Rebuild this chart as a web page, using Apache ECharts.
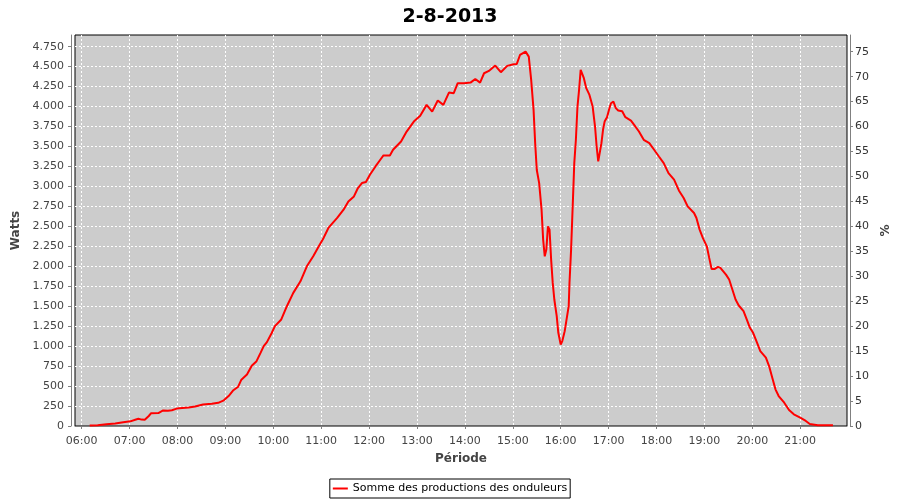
<!DOCTYPE html>
<html><head><meta charset="utf-8">
<script src="https://cdn.jsdelivr.net/npm/echarts@6/dist/echarts.min.js"></script>
<style>html,body{margin:0;padding:0;background:#fff}#c{width:900px;height:500px}</style>
</head><body><div id="c"></div>
<script>
const chartTitle = '2-8-2013';
const seriesName = 'Somme des productions des onduleurs';
const times = ['06:10','06:20','06:31','06:42','06:52','07:01','07:07','07:11','07:15','07:19','07:24','07:27','07:36','07:42','07:48','07:53','07:59','08:06','08:14','08:22','08:32','08:43','08:51','08:58','09:04','09:10','09:16','09:20','09:27','09:33','09:39','09:44','09:48','09:52','09:58','10:02','10:10','10:17','10:25','10:34','10:42','10:50','10:57','11:03','11:09','11:20','11:28','11:34','11:41','11:46','11:51','11:56','12:01','12:08','12:14','12:18','12:26','12:30','12:40','12:47','12:56','13:04','13:12','13:19','13:26','13:33','13:40','13:46','13:51','13:59','14:07','14:13','14:19','14:24','14:30','14:38','14:45','14:53','15:01','15:05','15:09','15:16','15:20','15:23','15:26','15:28','15:30','15:33','15:36','15:38','15:40','15:42','15:44','15:46','15:48','15:50','15:52','15:55','15:57','16:00','16:02','16:05','16:07','16:10','16:11','16:13','16:15','16:17','16:19','16:21','16:23','16:25','16:27','16:29','16:32','16:36','16:40','16:43','16:45','16:47','16:49','16:51','16:53','16:55','16:58','17:01','17:03','17:06','17:09','17:12','17:17','17:21','17:28','17:32','17:38','17:44','17:51','17:57','18:03','18:09','18:15','18:22','18:28','18:34','18:39','18:47','18:50','18:54','18:58','19:03','19:06','19:09','19:13','19:17','19:20','19:27','19:31','19:35','19:39','19:43','19:49','19:53','19:57','20:01','20:06','20:10','20:17','20:21','20:25','20:29','20:33','20:40','20:46','20:52','21:00','21:07','21:12','21:22','21:30','21:41'];
const watts = [5,10,22,32,48,58,78,90,80,78,125,160,162,195,192,198,218,225,232,245,268,278,290,322,375,448,492,580,645,755,812,915,1000,1050,1165,1250,1334,1500,1667,1812,2000,2125,2250,2355,2480,2605,2709,2812,2875,2980,3042,3055,3146,3250,3334,3388,3388,3459,3562,3687,3812,3884,4021,3937,4075,4021,4175,4167,4292,4292,4300,4346,4300,4417,4446,4513,4430,4509,4530,4534,4646,4688,4625,4334,3959,3542,3209,3042,2709,2334,2125,2209,2500,2459,2084,1792,1584,1375,1167,1021,1063,1188,1313,1500,1792,2209,2750,3292,3584,4000,4209,4459,4438,4355,4230,4146,4000,3750,3500,3313,3313,3542,3709,3812,3867,3980,4042,4063,3980,3950,3940,3867,3825,3771,3688,3584,3542,3459,3375,3292,3167,3084,2950,2855,2750,2667,2605,2459,2355,2250,2105,1967,1967,1992,1980,1896,1834,1709,1584,1509,1438,1334,1230,1167,1042,938,855,750,605,459,375,292,200,146,105,63,25,10,8,8];
const hourLabels = ['06:00','07:00','08:00','09:00','10:00','11:00','12:00','13:00','14:00','15:00','16:00','17:00','18:00','19:00','20:00','21:00'];
const wattTicks = [0,250,500,750,1000,1250,1500,1750,2000,2250,2500,2750,3000,3250,3500,3750,4000,4250,4500,4750];
const pctTicks = [0,5,10,15,20,25,30,35,40,45,50,55,60,65,70,75];

const toMin = s => { const p = s.split(':'); return (+p[0]) * 60 + (+p[1]); };
const fmtMin = v => { const h = Math.floor(v / 60), m = Math.round(v % 60); return String(h).padStart(2,'0') + ':' + String(m).padStart(2,'0'); };
const fmtW = v => v >= 1000 ? Math.floor(v / 1000) + '.' + String(v % 1000).padStart(3, '0') : String(v);
const hourVals = hourLabels.map(toMin);
const data = times.map((t, i) => [toMin(t), watts[i]]);

const FONT = 'DejaVu Sans';
const chart = echarts.init(document.getElementById('c'), null, {renderer: 'canvas'});
chart.setOption({
  animation: false,
  backgroundColor: '#ffffff',
  title: {text: chartTitle, left: 'center', top: 3,
    textStyle: {fontFamily: FONT, fontSize: 19, fontWeight: 'bold', color: '#000'}},
  legend: {data: [seriesName], left: 'center', bottom: 2, icon: 'rect', itemWidth: 15, itemHeight: 2,
    padding: [4, 3, 4, 3], borderColor: '#000', borderWidth: 1, borderRadius: 0,
    textStyle: {fontFamily: FONT, fontSize: 11, color: '#000'}},
  grid: {left: 75, right: 53, top: 35, bottom: 74, show: true, backgroundColor: '#cccccc',
    borderColor: '#000', borderWidth: 1, containLabel: false},
  xAxis: {type: 'value', min: 351.6, max: 1318.6, offset: 3,
    name: 'Période', nameLocation: 'middle', nameGap: 24,
    nameTextStyle: {fontFamily: FONT, fontSize: 12, fontWeight: 'bold', color: '#444'},
    axisLine: {show: true, lineStyle: {color: '#808080', width: 1}},
    axisTick: {show: true, length: 3, lineStyle: {color: '#808080'}, customValues: hourVals},
    axisLabel: {customValues: hourVals, formatter: fmtMin, margin: 7,
      fontFamily: FONT, fontSize: 11, color: '#444'},
    splitLine: {show: true, lineStyle: {color: '#ffffff', width: 1, type: [2, 2]}}},
  yAxis: [
    {type: 'value', min: 0, max: 4896, position: 'left', offset: 4,
      name: 'Watts', nameLocation: 'middle', nameGap: 43, nameRotate: 90,
      nameTextStyle: {fontFamily: FONT, fontSize: 12, fontWeight: 'bold', color: '#444'},
      axisLine: {show: true, lineStyle: {color: '#808080', width: 1}},
      axisTick: {show: true, length: 3, lineStyle: {color: '#808080'}, customValues: wattTicks},
      axisLabel: {customValues: wattTicks, formatter: fmtW, margin: 7,
        fontFamily: FONT, fontSize: 11, color: '#444'},
      splitLine: {show: true, lineStyle: {color: '#ffffff', width: 1, type: [2, 2]}}},
    {type: 'value', min: 0, max: 78.35, position: 'right', offset: 3,
      name: '%', nameLocation: 'middle', nameGap: 26, nameRotate: 90,
      nameTextStyle: {fontFamily: FONT, fontSize: 12, fontWeight: 'bold', color: '#444'},
      axisLine: {show: true, lineStyle: {color: '#808080', width: 1}},
      axisTick: {show: true, length: 3, lineStyle: {color: '#808080'}, customValues: pctTicks},
      axisLabel: {customValues: pctTicks, margin: 5, fontFamily: FONT, fontSize: 11, color: '#333'},
      splitLine: {show: false}}
  ],
  series: [{name: seriesName, type: 'line', yAxisIndex: 0, data: data, symbol: 'none',
    lineStyle: {color: '#ff0000', width: 2}, itemStyle: {color: '#ff0000'}}]
});
</script></body></html>
